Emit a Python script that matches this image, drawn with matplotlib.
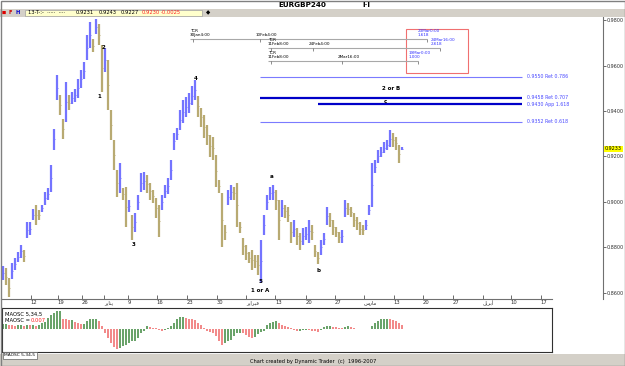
import matplotlib
matplotlib.use('Agg')
import matplotlib.pyplot as plt
from matplotlib.patches import Rectangle

W, H = 625, 366

# ---------------- data (half-day steps, EURGBP 4h) ----------------
highs = [.8719, .8710, .8666, .8732, .8754, .8780, .8811, .8789, .8912, .8912,
         .8969, .8987, .8965, .8987, .9044, .9062, .9163, .9321, .9558, .9470,
         .9365, .9527, .9470, .9484, .9497, .9541, .9580, .9615, .9734, .9791,
         .9716, .9804, .9782, .9690, .9677, .9624, .9404, .9273, .9141, .9171,
         .9062, .9066, .9009, .8943, .8952, .9031, .9127, .9132, .9119, .9084,
         .9053, .9018, .8987, .9031, .9075, .9106, .9185, .9303, .9325, .9404,
         .9448, .9462, .9479, .9510, .9536, .9466, .9413, .9382, .9338, .9295,
         .9286, .9207, .9097, .9040, .8899, .9053, .9075, .9066, .9084, .8912,
         .8842, .8811, .8780, .8789, .8767, .8767, .8833, .8943, .9031, .9066,
         .9075, .9053, .9009, .9009, .8987, .8978, .8912, .8921, .8886, .8864,
         .8886, .8890, .8921, .8899, .8811, .8780, .8833, .8864, .8978, .8952,
         .8921, .8890, .8868, .8877, .9009, .8996, .8978, .8952, .8934, .8912,
         .8899, .8921, .8987, .9171, .9185, .9229, .9242, .9264, .9273, .9316,
         .9303, .9286, .9251, .9243]
lows = [.8657, .8635, .8582, .8662, .8701, .8736, .8754, .8736, .8842, .8855,
        .8921, .8899, .8921, .8956, .8987, .9009, .9044, .9229, .9448, .9382,
        .9277, .9352, .9404, .9431, .9440, .9457, .9501, .9541, .9624, .9677,
        .9659, .9738, .9690, .9484, .9571, .9404, .9273, .9141, .9022, .9040,
        .9009, .8890, .8956, .8833, .8868, .8965, .9044, .9053, .9040, .9009,
        .8996, .8930, .8846, .8965, .9018, .9035, .9097, .9229, .9273, .9316,
        .9347, .9374, .9391, .9426, .9448, .9374, .9330, .9281, .9251, .9198,
        .9185, .9066, .9040, .8802, .8833, .8987, .9009, .9009, .8890, .8864,
        .8767, .8745, .8732, .8701, .8710, .8679, .8644, .8855, .8965, .9009,
        .9009, .8965, .8833, .8934, .8930, .8912, .8820, .8846, .8811, .8789,
        .8811, .8833, .8820, .8833, .8758, .8727, .8767, .8811, .8899, .8890,
        .8855, .8846, .8820, .8820, .8934, .8943, .8934, .8890, .8877, .8855,
        .8855, .8877, .8943, .8978, .9127, .9171, .9198, .9215, .9229, .9242,
        .9242, .9229, .9171, .9227]

osc = [.0035, .0035, .0030, .0028, .0025, .0028, .0028, .0025, .0030, .0028,
       .0028, .0025, .0030, .0045, .0047, .0080, .0100, .0117, .0125, .0130,
       .0075, .0070, .0065, .0065, .0050, .0045, .0035, .0035, .0060, .0070,
       .0070, .0070, .0060, .0020, -.0030, -.0060, -.0100, -.0125, -.0140, -.0135,
       -.0120, -.0115, -.0100, -.0085, -.0080, -.0060, -.0030, -.0010, .0020, .0015,
       .0008, .0005, -.0005, -.0012, -.0008, .0010, .0025, .0045, .0070, .0085,
       .0088, .0080, .0072, .0070, .0065, .0045, .0030, .0010, -.0010, -.0020,
       -.0030, -.0050, -.0080, -.0110, -.0100, -.0085, -.0075, -.0050, -.0030, -.0025,
       -.0030, -.0040, -.0055, -.0060, -.0055, -.0035, -.0020, -.0010, .0030, .0045,
       .0050, .0055, .0045, .0030, .0020, .0015, .0005, -.0005, -.0012, -.0012,
       -.0008, -.0003, -.0005, -.0010, -.0015, -.0019, -.0005, .0015, .0025, .0025,
       .0015, .0012, .0008, .0005, .0015, .0023, .0018, .0008, .0003, .0002,
       .0000, -.0002, .0002, .0020, .0045, .0060, .0068, .0070, .0070, .0068,
       .0065, .0055, .0045, .0030]
osc_now = 0.007

JAN = "\uFEAE\uFEF3\uFE8E\uFEE8\uFEF3"
FEB = "\uFEAE\uFEF3\uFE8D\uFEAE\uFE92\uFED3"
MAR = "\uFEB1\uFEAD\uFE8E\uFEE3"
APR = "\uFEDE\uFEF3\uFEAE\uFE91\uFE83"
date_labels = ['12', '19', '26', JAN, '9', '16', '23', '30', FEB, '13', '20', '27',
               MAR, '13', '20', '27', APR, '10', '17']
date_ticks = [9.3, 18.3, 26.3, 33.7, 41.7, 51.3, 61.3, 71.3, 81.0, 90.7, 101.0,
              110.7, 120.3, 130.3, 140.0, 150.0, 160.0, 169.3, 179.3]

price_ticks = [0.86, 0.88, 0.90, 0.92, 0.94, 0.96, 0.98]
last_price = 0.9233

fib_levels = [0.9550, 0.9458, 0.9430, 0.9352]
fib_names = ['Ret 0.786', 'Ret 0.707', 'App 1.618', 'Ret 0.618']
fib_heavy = [False, True, True, False]
fib_start = [85.7, 85.7, 105.0, 85.7]
fib_end = 173.0

wave_text = ['1', '2', '3', '4', '5', '1 or A', 'a', 'b', 'c', '2 or B']
wave_x = [32.0, 33.5, 43.7, 64.3, 85.7, 85.7, 89.7, 105.3, 127.3, 129.3]
wave_y = [0.9462, 0.9677, 0.8811, 0.9545, 0.8650, 0.8613, 0.9110, 0.8701, 0.9440, 0.9497]

tcr_level = [0.97165, 0.96769, 0.96198]
tcr_x0 = [62.3, 88.3, 88.3]
tcr_x1 = [141.3, 145.7, 138.3]
tcr_mid = [85.7, 103.3, 113.0]
tcr_from = ['30Jan4:00', '11Feb8:00', '11Feb8:00']
tcr_midtxt = ['10Feb4:00', '24Feb4:00', '2Mar16:00']
tcr_proj = ['23Mar0:00\n1.618', '24Mar16:00\n2.618', '19Mar0:00\n1.000']

# ---------------- figure ----------------
fig = plt.figure(figsize=(W / 100, H / 100), dpi=100)
fig.patch.set_facecolor('white')


def fx(x):
    return x / W


def fy(y):
    return 1 - y / H


def frect(x0, y0, x1, y1, **kw):
    fig.patches.append(Rectangle((fx(x0), fy(y1)), (x1 - x0) / W, (y1 - y0) / H,
                                 transform=fig.transFigure, **kw))


# window frame, toolbar, footer
frect(0, 9, W, 17, facecolor='#d4d0c8', edgecolor='none')
frect(25, 10, 202, 16, facecolor='#ffffcc', edgecolor='#a0a0a0', lw=0.5)
frect(0, 354, W, 366, facecolor='#d4d0c8', edgecolor='none')
frect(0.5, 0.5, W - 0.5, H - 0.5, facecolor='none', edgecolor='#808080', lw=1)

fs = 3.7
fig.text(fx(302), fy(5), 'EURGBP240', fontsize=5.2, fontweight='bold', ha='center', va='center')
fig.text(fx(366), fy(5), 'I\u00b7I', fontsize=5.2, fontweight='bold', ha='center', va='center')
fig.text(fx(4), fy(13), '\u25a0', fontsize=3.2, color='#dd0000', ha='center', va='center')
fig.text(fx(10.5), fy(13), 'F', fontsize=fs, color='#cc0000', fontweight='bold', ha='center', va='center')
fig.text(fx(17.5), fy(13), 'H', fontsize=fs, color='#0000cc', fontweight='bold', ha='center', va='center')
fig.text(fx(28), fy(13), '13-T-:-  \u00b7\u00b7\u00b7\u00b7\u00b7  \u00b7\u00b7\u00b7\u00b7', fontsize=fs, va='center')
for txt, x, c in [('0.9231', 76, 'black'), ('0.9243', 99, 'black'), ('0.9227', 121, 'black'),
                  ('0.9230', 142, '#ff2020'), ('-0.0025', 161, '#ff2020')]:
    fig.text(fx(x), fy(13), txt, fontsize=fs, color=c, va='center')
fig.text(fx(208), fy(13), '\u25c6', fontsize=4, ha='center', va='center')
fig.text(fx(313), fy(361), 'Chart created by Dynamic Trader  (c)  1996-2007', fontsize=fs,
         ha='center', va='center')

# ---------------- price axes ----------------
ax = fig.add_axes([fx(1), fy(299), 602 / W, 282 / H])
ax.set_facecolor('white')
ax.set_xlim(-0.667, 200)
ax.set_ylim(0.85736, 0.98132)

mids = [(h + l) / 2 for h, l in zip(highs, lows)]
for i, (h, l) in enumerate(zip(highs, lows)):
    up = i == 0 or mids[i] >= mids[i - 1]
    col = '#7474ff' if up else '#b8aa72'
    ax.vlines(i, l, h, color=col, lw=1.6)
    ax.hlines(mids[i], i, i + 0.4, color=col, lw=0.6)

for lvl, name, heavy, x0 in zip(fib_levels, fib_names, fib_heavy, fib_start):
    ax.hlines(lvl, x0, fib_end, color='#0000c8' if heavy else '#7b7bff', lw=1.6 if heavy else 0.8)
    ax.text(fib_end + 1.5, lvl, f'{lvl:.4f} {name}', fontsize=3.4, color='#4a4aff', va='center')

for t, x, y in zip(wave_text, wave_x, wave_y):
    ax.text(x, y, t, fontsize=4.0, fontweight='bold', ha='center', va='center')

for lvl, x0, x1, xm, a, b, c in zip(tcr_level, tcr_x0, tcr_x1, tcr_mid, tcr_from, tcr_midtxt, tcr_proj):
    ax.hlines(lvl, x0, x1, color='#a8a8a8', lw=0.8)
    for xx in (x0 + 1, xm, x1):
        ax.vlines(xx, lvl - 0.0012, lvl, color='#606060', lw=0.5)
    ax.text(x0, lvl + 0.0010, 'TCR\n' + a, fontsize=3.0, va='bottom', ha='left', linespacing=0.9)
    ax.text(xm - 1.5, lvl + 0.0010, b, fontsize=3.0, va='bottom', ha='left')
    ax.text(x1 - 3, lvl + 0.0010, c, fontsize=3.0, va='bottom', ha='left', color='#3030ff',
            linespacing=0.9)

ax.add_patch(Rectangle((134.3, 0.9567), 20.7, 0.0193, facecolor='none', edgecolor='#f07070', lw=0.8))

for s in ['top', 'left', 'bottom']:
    ax.spines[s].set_visible(False)
ax.spines['right'].set_color('#707070')
ax.spines['right'].set_linewidth(0.8)
ax.yaxis.tick_right()
ax.set_yticks(price_ticks)
ax.set_yticklabels([f'{p:.4f}' for p in price_ticks], fontsize=3.5)
ax.tick_params(axis='y', length=2.0, width=0.5, pad=0.4, colors='#303030')
ax.set_xticks(date_ticks)
ax.set_xticklabels(date_labels, fontsize=3.8, family=['DejaVu Sans'])
for lbl in ax.get_xticklabels():
    lbl.set_ha('left')
ax.tick_params(axis='x', length=3, width=0.5, pad=1, direction='in', colors='#303030')
ax.plot([-0.667, 183], [0.85736, 0.85736], color='#707070', lw=0.8, clip_on=False)

ax.text(1.003, last_price, f'{last_price:.4f}', transform=ax.get_yaxis_transform(),
        fontsize=3.5, va='center', ha='left',
        bbox=dict(boxstyle='square,pad=0.2', facecolor='#ffff00', edgecolor='none'))

# ---------------- oscillator ----------------
ax2 = fig.add_axes([fx(2), fy(352), 550 / W, 44 / H])
ax2.set_xlim(-0.333, 183)
ax2.set_ylim(-0.0161, 0.0149)
for i, v in enumerate(osc):
    rising = i == 0 or v >= osc[i - 1]
    ax2.bar(i, v, width=0.85, color='#6aa36a' if rising else '#f28a8a', lw=0)
ax2.set_xticks([])
ax2.set_yticks([])
for s in ax2.spines.values():
    s.set_linewidth(0.8)
    s.set_color('#303030')
fig.text(fx(5), fy(314), 'MAOSC 5,34,5', fontsize=3.8, va='center')
fig.text(fx(5), fy(321), 'MAOSC =', fontsize=3.8, va='center')
fig.text(fx(31), fy(321), f'{osc_now:.3f}', fontsize=3.8, va='center', color='#ff2020')

frect(3, 352, 37, 359, facecolor='white', edgecolor='#606060', lw=0.5)
fig.text(fx(20), fy(355.5), 'MAOSC 5,34,5', fontsize=3.2, ha='center', va='center')

fig.savefig('out.png', dpi=100)
